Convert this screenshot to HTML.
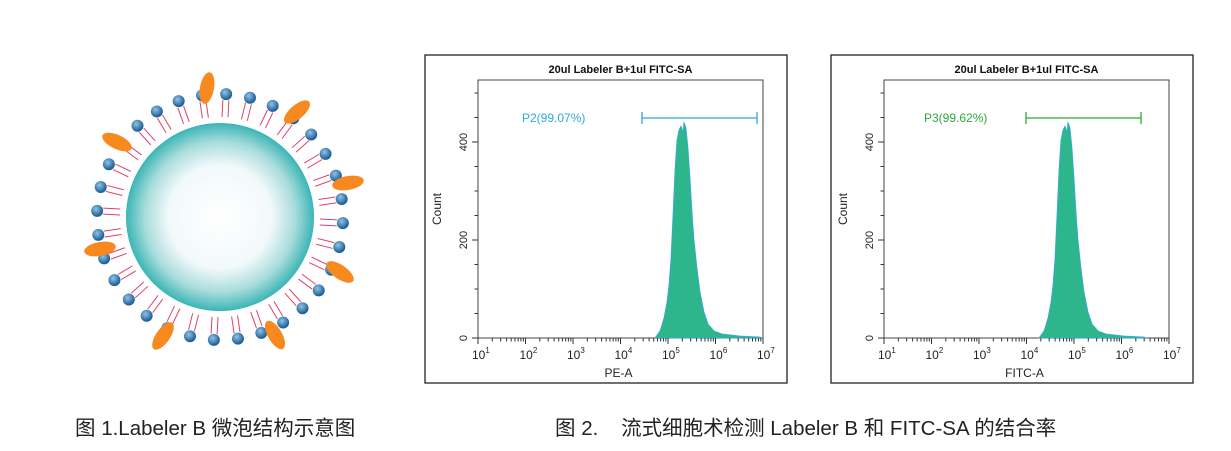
<!DOCTYPE html>
<html><head><meta charset="utf-8"><style>
body{margin:0;background:#fff;width:1231px;height:451px;overflow:hidden;position:relative;font-family:"Liberation Sans","Noto Sans CJK SC",sans-serif}
.cap{position:absolute;top:411px;font-size:20.5px;color:#222}
</style></head><body>
<svg width="1231" height="451" style="position:absolute;left:0;top:0">
<defs>
<radialGradient id="sg" cx="0.5" cy="0.5" r="0.5">
<stop offset="0" stop-color="#fff"/><stop offset="0.55" stop-color="#f2f9fa"/><stop offset="0.8" stop-color="#a9dcdc"/><stop offset="1" stop-color="#3bb5b5"/>
</radialGradient>
<radialGradient id="bg" cx="0.4" cy="0.35" r="0.6"><stop offset="0" stop-color="#8fc3e6"/><stop offset="1" stop-color="#1e5f96"/></radialGradient>
</defs>
<g id="lip"></g>
<circle cx="220" cy="217" r="94" fill="url(#sg)"/>
<g id="charts"></g>
</svg>
<div class="cap" style="left:75px">图 1.Labeler B 微泡结构示意图</div>
<div class="cap" style="left:555px">图 2.&nbsp;&nbsp;&nbsp;&nbsp;流式细胞术检测 Labeler B 和 FITC-SA 的结合率</div>
<script>
var NS="http://www.w3.org/2000/svg";
function el(p,t,a,txt){var e=document.createElementNS(NS,t);for(var k in a)e.setAttribute(k,a[k]);if(txt!=null)e.textContent=txt;p.appendChild(e);return e;}
var lip=document.getElementById('lip');
var cx=220,cy=217,N=32;
for(var i=0;i<N;i++){var a=i/N*2*Math.PI+0.05;var c=Math.cos(a),s=Math.sin(a);
 for(var d=-3;d<=3;d+=6){var px=-s*d,py=c*d;
 el(lip,'line',{x1:cx+c*100+px,y1:cy+s*100+py,x2:cx+c*117+px,y2:cy+s*117+py,stroke:'#e0406a','stroke-width':1});}
 el(lip,'circle',{cx:cx+c*123,cy:cy+s*123,r:6,fill:'url(#bg)'});}
[[207,88,-80],[297,112,-40],[117,142,25],[348,183,-10],[100,249,-10],[340,272,35],[163,336,-55],[275,335,60]].forEach(function(o){
 el(lip,'ellipse',{cx:o[0],cy:o[1],rx:16,ry:7,fill:'#f7891f',transform:'rotate('+o[2]+' '+o[0]+' '+o[1]+')'});});
var g=document.getElementById('charts');
var pk=[[655,338],[660,331],[664,318],[667,302],[669,285],[671,258],[673,215],[675,170],[677,140],[679,130],[681,126],[683,132],[684,122],[686,128],[688,148],[690,178],[692,212],[694,240],[697,268],[700,292],[704,312],[708,324],[714,331],[722,334],[740,336],[760,337],[763,338]];
function chart(ox,col,gx1,gx2,lbl,xl){
 var L=478+ox,R=763+ox,T=80,B=338;
 el(g,'rect',{x:425+ox,y:55,width:362,height:328,fill:'none',stroke:'#222','stroke-width':1.3});
 el(g,'text',{x:(L+R)/2,y:73,'text-anchor':'middle','font-size':11,'font-weight':'bold',fill:'#111'},'20ul Labeler B+1ul FITC-SA');
 el(g,'rect',{x:L,y:T,width:R-L,height:B-T,fill:'none',stroke:'#444','stroke-width':1});
 var d='M'+pk.map(function(p){return (p[0]+ox-(ox?22:0))+','+p[1]}).join(' L')+' Z';
 el(g,'path',{d:d,fill:'#2db58c',stroke:'#39a9e0','stroke-width':0.8});
 var dec=47.5;
 for(var k=0;k<=6;k++){var x=L+k*dec;el(g,'line',{x1:x,y1:B,x2:x,y2:B+6,stroke:'#333'});
  var t=el(g,'text',{x:x-6,y:B+21,'font-size':12,fill:'#222'},'10');el(t,'tspan',{dy:-6,'font-size':8},String(k+1));
  if(k<6)for(var m=2;m<10;m++){var xm=x+Math.log10(m)*dec;el(g,'line',{x1:xm,y1:B,x2:xm,y2:B+3.5,stroke:'#333'});}}
 for(var v=0;v<=500;v+=50){var y=B-v*0.49;el(g,'line',{x1:L-(v%200==0?6:3.5),y1:y,x2:L,y2:y,stroke:'#333'});
  if(v%200==0)el(g,'text',{x:L-11,y:y,'font-size':11,fill:'#222','text-anchor':'middle',transform:'rotate(-90 '+(L-11)+' '+y+')'},String(v));}
 el(g,'text',{x:L-37,y:209,'font-size':12,fill:'#222','text-anchor':'middle',transform:'rotate(-90 '+(L-37)+' 209)'},'Count');
 el(g,'text',{x:(L+R)/2-2,y:377,'font-size':12,fill:'#222','text-anchor':'middle'},xl);
 el(g,'line',{x1:gx1,y1:118,x2:gx2,y2:118,stroke:col,'stroke-width':1.3});
 el(g,'line',{x1:gx1,y1:112,x2:gx1,y2:124,stroke:col,'stroke-width':1.3});
 el(g,'line',{x1:gx2,y1:112,x2:gx2,y2:124,stroke:col,'stroke-width':1.3});
 el(g,'text',{x:gx1-120+(ox?18:0),y:122,'font-size':12,fill:col},lbl);
}
chart(0,'#2fa8dc',642,757,'P2(99.07%)','PE-A');
chart(406,'#2aaa3a',1026,1141,'P3(99.62%)','FITC-A');
</script>
</body></html>
